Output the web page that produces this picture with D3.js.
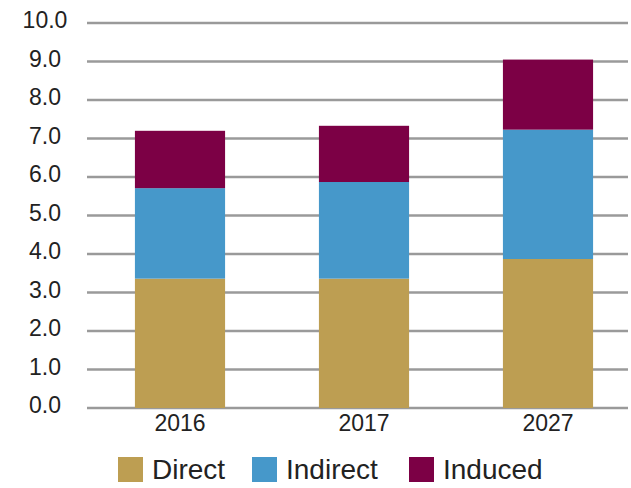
<!DOCTYPE html>
<html>
<head>
<meta charset="utf-8">
<script src="https://cdn.jsdelivr.net/npm/d3@7"></script>
<style>
  html, body { margin: 0; padding: 0; background: #fff; }
  svg { display: block; font-family: "Liberation Sans", Arial, sans-serif; }
</style>
</head>
<body>
<svg id="chart" width="631" height="488"></svg>
<script>
// Economic impact by year, stacked by component
const years = ["2016", "2017", "2027"];
const direct = [3.36, 3.36, 3.87];
const indirect = [2.35, 2.51, 3.36];
const induced = [1.49, 1.46, 1.82];
const seriesNames = ["Direct", "Indirect", "Induced"];
const seriesColors = ["#BD9E52", "#4698CA", "#7C0045"];
const yTicks = [0, 1, 2, 3, 4, 5, 6, 7, 8, 9, 10];

const svg = d3.select("#chart");

const gridLeft = 87, gridRight = 628;
const y = d3.scaleLinear().domain([0, 10]).range([408, 23]);
const x = d3.scaleBand()
  .domain(years)
  .range([88, 640])
  .paddingInner(0.51)
  .paddingOuter(0.255);

// Gridlines
svg.append("g")
  .selectAll("line")
  .data(yTicks)
  .join("line")
  .attr("x1", gridLeft)
  .attr("x2", gridRight)
  .attr("y1", d => y(d))
  .attr("y2", d => y(d))
  .attr("stroke", "#9a9a9a")
  .attr("stroke-width", 2.5);

// Y tick labels
svg.append("g")
  .selectAll("text")
  .data(yTicks)
  .join("text")
  .attr("x", 45)
  .attr("y", d => y(d) - 3)
  .attr("text-anchor", "middle")
  .attr("dominant-baseline", "central")
  .attr("font-size", 23)
  .attr("fill", "#222")
  .text(d => d.toFixed(1));

// Stacked bars
const table = years.map((yr, i) => ({
  year: yr, Direct: direct[i], Indirect: indirect[i], Induced: induced[i]
}));
const stack = d3.stack().keys(seriesNames)(table);
const color = d3.scaleOrdinal().domain(seriesNames).range(seriesColors);

svg.append("g")
  .selectAll("g")
  .data(stack)
  .join("g")
  .attr("fill", d => color(d.key))
  .selectAll("rect")
  .data(d => d)
  .join("rect")
  .attr("x", d => x(d.data.year))
  .attr("width", x.bandwidth())
  .attr("y", d => y(d[1]))
  .attr("height", d => y(d[0]) - y(d[1]));

// Category labels
svg.append("g")
  .selectAll("text")
  .data(years)
  .join("text")
  .attr("x", d => x(d) + x.bandwidth() / 2)
  .attr("y", 431)
  .attr("text-anchor", "middle")
  .attr("font-size", 23)
  .attr("fill", "#222")
  .text(d => d);

// Legend
const legendX = [118, 252, 409];
const legend = svg.append("g")
  .selectAll("g")
  .data(seriesNames)
  .join("g")
  .attr("transform", (d, i) => `translate(${legendX[i]},457)`);
legend.append("rect")
  .attr("width", 25)
  .attr("height", 25)
  .attr("fill", d => color(d));
legend.append("text")
  .attr("x", 34)
  .attr("y", 12.5)
  .attr("dominant-baseline", "central")
  .attr("font-size", 28)
  .attr("fill", "#222")
  .text(d => d);
</script>
</body>
</html>
